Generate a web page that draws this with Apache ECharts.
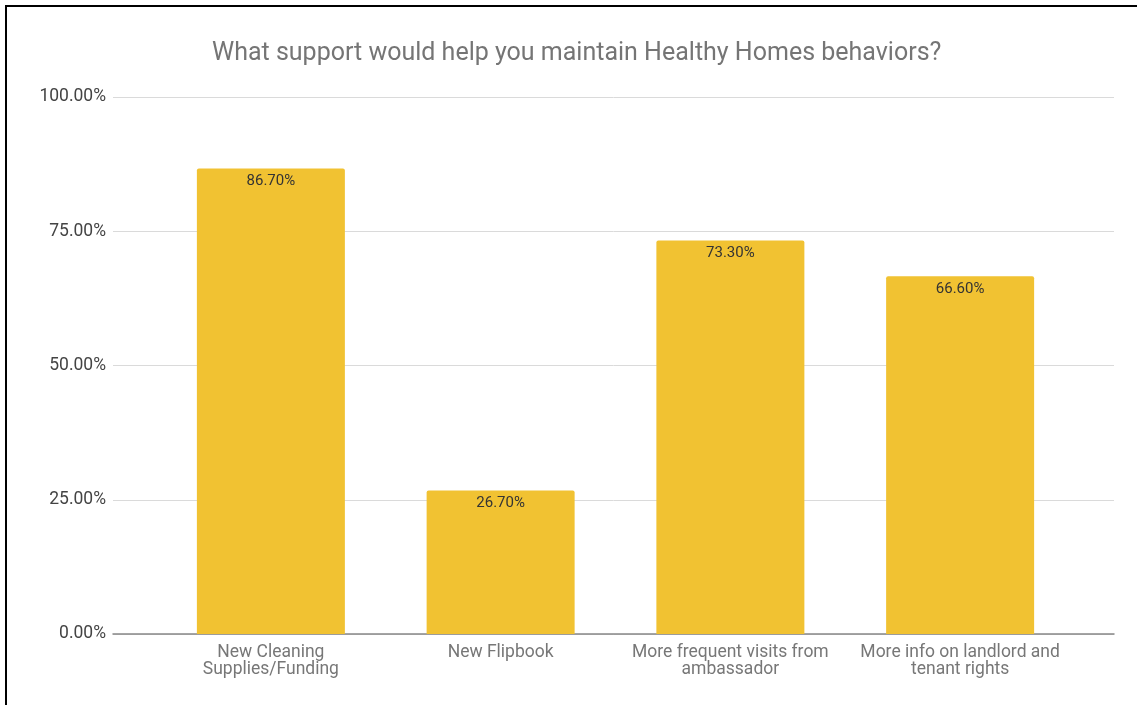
<!DOCTYPE html>
<html>
<head>
<meta charset="utf-8">
<script src="https://cdn.jsdelivr.net/npm/echarts@6/dist/echarts.min.js"></script>
<style>
html,body{margin:0;padding:0;background:#fff;}
#c{width:1137px;height:705px;}
</style>
</head>
<body>
<div id="c"></div>
<script>
const titleText = 'What support would help you maintain Healthy Homes behaviors?';
const categories = ['New Cleaning\nSupplies/Funding', 'New Flipbook', 'More frequent visits from\nambassador', 'More info on landlord and\ntenant rights'];
const values = [86.7, 26.7, 73.3, 66.6];
const yTicks = [0, 25, 50, 75, 100];

const chart = echarts.init(document.getElementById('c'), null, {renderer: 'canvas'});
const font = 'Roboto, Arial, sans-serif';
chart.setOption({
  backgroundColor: '#fff',
  animation: false,
  title: {
    text: titleText,
    left: 207,
    top: 36,
    textStyle: {fontFamily: font, fontSize: 25, fontWeight: 'normal', color: '#757575'}
  },
  graphic: [
    {type: 'line', shape: {x1: 6, y1: 6, x2: 6, y2: 705}, style: {stroke: '#000', lineWidth: 2}},
    {type: 'line', shape: {x1: 5, y1: 6, x2: 1137, y2: 6}, style: {stroke: '#000', lineWidth: 2}}
  ],
  grid: [
    {left: 113, right: 23, top: 97, bottom: 71},
    {left: 156, right: 62, top: 97, bottom: 71}
  ],
  xAxis: [
    {gridIndex: 0, type: 'value', min: 0, max: 1, show: true,
      axisLine: {show: true, onZero: false, lineStyle: {color: '#888', width: 1.5}},
      axisTick: {show: false}, axisLabel: {show: false}, splitLine: {show: false}},
    {gridIndex: 1, type: 'category', data: categories,
      axisLine: {show: false}, axisTick: {show: false},
      axisLabel: {fontFamily: font, fontSize: 17.5, color: '#777', lineHeight: 17, margin: 10, interval: 0}}
  ],
  yAxis: [
    {gridIndex: 0, type: 'value', min: 0, max: 100, interval: 25,
      axisLine: {show: false}, axisTick: {show: false},
      axisLabel: {fontFamily: font, fontSize: 17.5, color: '#444', margin: 7,
        formatter: v => yTicks.includes(v) ? v.toFixed(2) + '%' : ''},
      splitLine: {lineStyle: {color: '#dadada', width: 1}}},
    {gridIndex: 1, type: 'value', min: 0, max: 100, show: false}
  ],
  series: [{
    type: 'bar',
    xAxisIndex: 1, yAxisIndex: 1,
    data: values,
    barWidth: 148,
    itemStyle: {color: '#F1C232', borderRadius: [2, 2, 0, 0]},
    label: {show: true, position: 'insideTop', distance: 5,
      fontFamily: font, fontSize: 15, color: '#333',
      formatter: p => p.value.toFixed(2) + '%'}
  }]
});
</script>
</body>
</html>
